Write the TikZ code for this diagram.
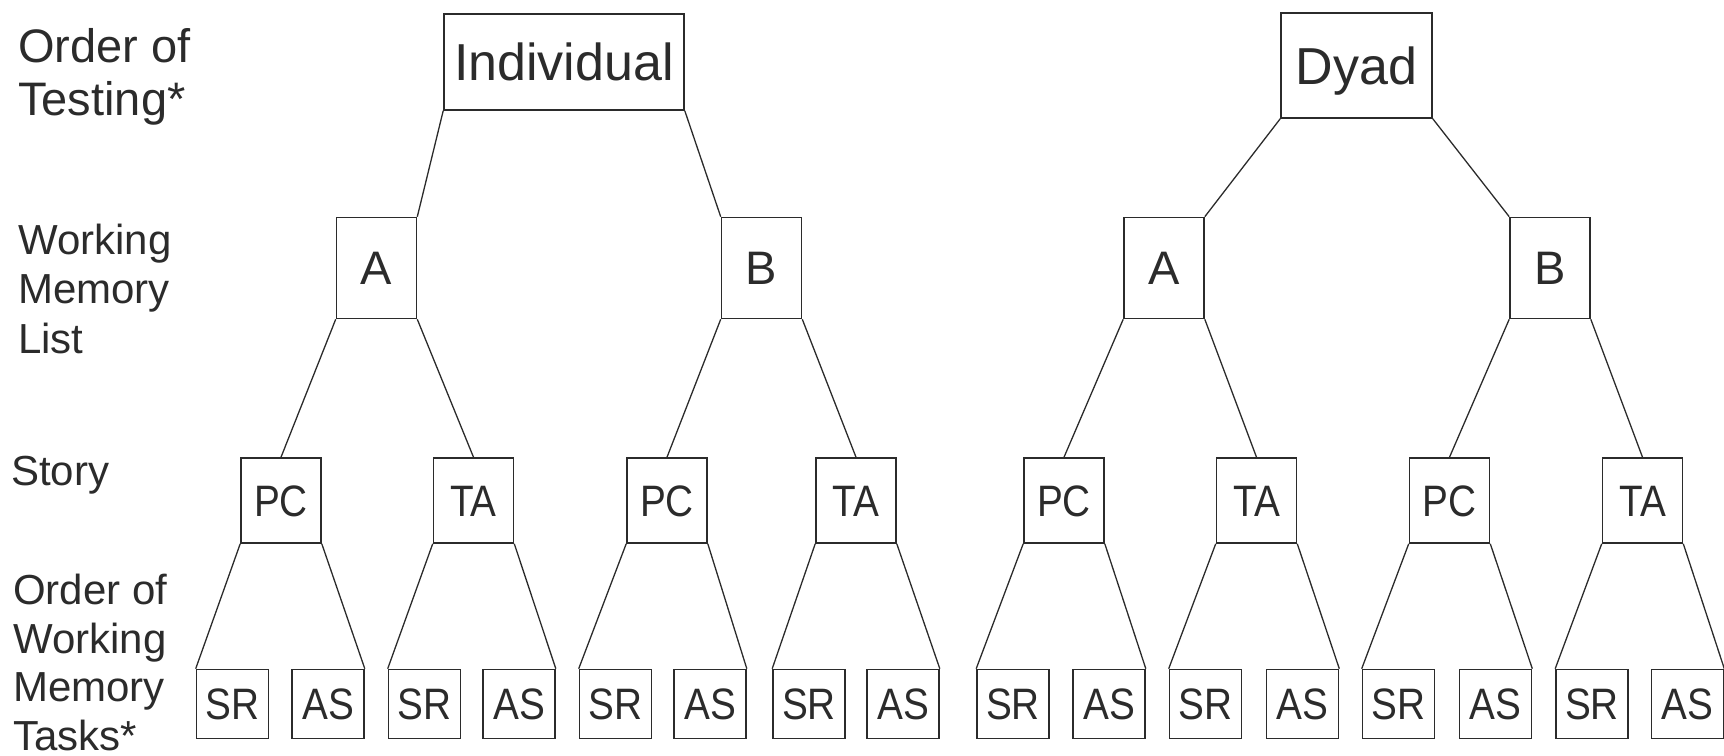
\documentclass[tikz,border=0pt]{standalone}
\usepackage{fontspec}
\setmainfont{Liberation Sans}
\newfontfamily\boxfont{Liberation Sans}[FakeStretch=0.88]
\definecolor{ink}{HTML}{2B2B2B}
\tikzset{
  tbox/.style={draw=ink, line width=1.6pt, inner sep=0pt, text depth=0pt, text=ink},
  lvlone/.style={tbox, font=\fontsize{52}{60}\selectfont, text height=37.2pt},
  lvltwo/.style={tbox, minimum width=80pt, minimum height=101pt,
                 font=\fontsize{47}{55}\selectfont, text height=33.7pt},
  lvlthree/.style={tbox, minimum width=80pt, minimum height=85pt,
                   font=\boxfont\fontsize{44}{52}\selectfont, text height=31.5pt},
  lvlfour/.style={tbox, minimum width=72pt, minimum height=69pt,
                  font=\boxfont\fontsize{44}{52}\selectfont, text height=31.5pt},
  link/.style={draw=ink, line width=1.3pt},
  % the base anchor of a multi-line caption sits on its last line
  rowlabel/.style={anchor=base west, align=left, inner sep=0pt, text=ink,
                   font=\fontsize{42}{49.5}\selectfont},
}
\begin{document}
\begin{tikzpicture}[x=1pt, y=-1pt]
\useasboundingbox (0,0) rectangle (1724,755);

% row captions
\node[rowlabel, font=\fontsize{47}{53}\selectfont] (capA) at (18,115) {Order of\\Testing*};
\node[rowlabel] (capB) at (18,353) {Working\\Memory\\List};
\node[rowlabel] (capC) at (11,485) {Story};
\node[rowlabel, font=\fontsize{42}{48.5}\selectfont] (capD) at (13,750) {Order of\\Working\\Memory\\Tasks*};

% order of testing
\node[lvlone, minimum width=240pt, minimum height=96pt] (ind) at (564,62) {Individual};
\node[lvlone, minimum width=151pt, minimum height=105pt] (dyad) at (1356.5,65.5) {Dyad};

% working memory lists
\node[lvltwo] (iA) at (376.5,268) {A};
\node[lvltwo] (iB) at (761.5,268) {B};
\node[lvltwo] (dA) at (1164,268) {A};
\node[lvltwo] (dB) at (1550,268) {B};

% stories
\foreach \n/\x/\t in {s1/281/PC, s2/473.5/TA, s3/667/PC, s4/856/TA,
                      s5/1064/PC, s6/1256.5/TA, s7/1449.5/PC, s8/1642.5/TA}
  \node[lvlthree] (\n) at (\x,500.5) {\t};

% working memory tasks
\foreach \n/\x/\t in {k1/232.5/SR, k2/328/AS, k3/424.5/SR, k4/519/AS,
                      k5/615.5/SR, k6/710/AS, k7/809/SR, k8/903/AS,
                      k9/1013/SR, k10/1109/AS, k11/1205.5/SR, k12/1302.5/AS,
                      k13/1398.5/SR, k14/1495.5/AS, k15/1592/SR, k16/1687.5/AS}
  \node[lvlfour] (\n) at (\x,704) {\t};

% level 1 to level 2
\draw[link] (ind.south west) -- (iA.north east);
\draw[link] (ind.south east) -- (iB.north west);
\draw[link] (dyad.south west) -- (dA.north east);
\draw[link] (dyad.south east) -- (dB.north west);

% level 2 to level 3
\draw[link] (iA.south west) -- (s1.north);
\draw[link] (iA.south east) -- (s2.north);
\draw[link] (iB.south west) -- (s3.north);
\draw[link] (iB.south east) -- (s4.north);
\draw[link] (dA.south west) -- (s5.north);
\draw[link] (dA.south east) -- (s6.north);
\draw[link] (dB.south west) -- (s7.north);
\draw[link] (dB.south east) -- (s8.north);

% level 3 to level 4
\foreach \s/\l/\r in {s1/k1/k2, s2/k3/k4, s3/k5/k6, s4/k7/k8,
                      s5/k9/k10, s6/k11/k12, s7/k13/k14, s8/k15/k16} {
  \draw[link] (\s.south west) -- (\l.north west);
  \draw[link] (\s.south east) -- (\r.north east);
}
\end{tikzpicture}
\end{document}
